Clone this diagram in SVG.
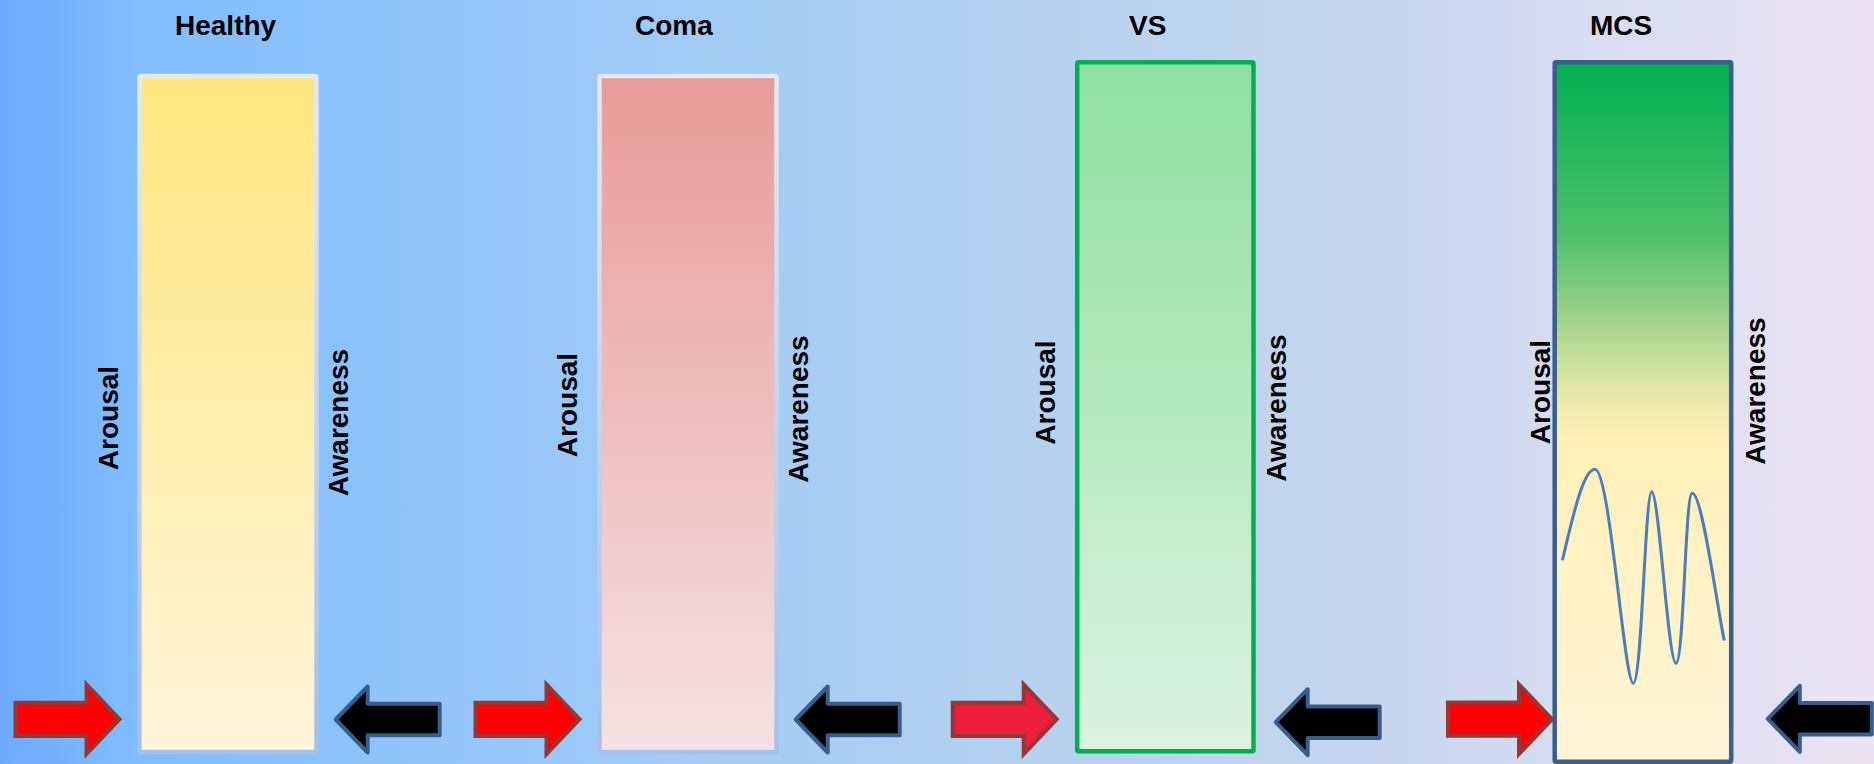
<svg xmlns="http://www.w3.org/2000/svg" width="1874" height="764" viewBox="0 0 1874 764">
<defs>
<style>
.title{font-family:"Liberation Sans",Arial,sans-serif;font-weight:bold;font-size:28px;fill:#000}
.lbl{font-family:"Liberation Sans",Arial,sans-serif;font-weight:bold;font-size:28px;fill:#000;text-anchor:middle}
.red{stroke:#953735;stroke-width:4;stroke-linejoin:miter}
.blk{fill:#000;stroke:#385d8a;stroke-width:4;stroke-linejoin:round}
</style>
<linearGradient id="bg" x1="0" y1="0" x2="1" y2="0">
<stop offset="0" stop-color="#6eabfe"/>
<stop offset="0.075" stop-color="#80bdfe"/>
<stop offset="0.25" stop-color="#94c6fa"/>
<stop offset="0.5" stop-color="#b0d0f0"/>
<stop offset="0.75" stop-color="#c9d7ee"/>
<stop offset="1" stop-color="#ece4f4"/>
</linearGradient>
<linearGradient id="gH" x1="0" y1="0" x2="0" y2="1">
<stop offset="0" stop-color="#ffe67f"/>
<stop offset="1" stop-color="#fff5db"/>
</linearGradient>
<linearGradient id="gC" x1="0" y1="0" x2="0" y2="1">
<stop offset="0" stop-color="#e79a99"/>
<stop offset="1" stop-color="#f5e2e2"/>
</linearGradient>
<linearGradient id="gV" x1="0" y1="0" x2="0" y2="1">
<stop offset="0" stop-color="#8fdf9f"/>
<stop offset="1" stop-color="#dcf3e2"/>
</linearGradient>
<linearGradient id="gM" x1="0" y1="0" x2="0" y2="1">
<stop offset="0" stop-color="#00b050"/>
<stop offset="0.25" stop-color="#50c06c"/>
<stop offset="0.35" stop-color="#94cf86"/>
<stop offset="0.43" stop-color="#cbe09c"/>
<stop offset="0.5" stop-color="#f4ecb2"/>
<stop offset="0.55" stop-color="#fff0b8"/>
<stop offset="1" stop-color="#fff5d8"/>
</linearGradient>
<linearGradient id="sG" x1="0" y1="0" x2="0" y2="1">
<stop offset="0" stop-color="#e4e9f2"/>
<stop offset="1" stop-color="#a6c0ea"/>
</linearGradient>
<path id="ar" d="M0,-16.6 H71 V-34.8 L104,0 L71,34.8 V16.6 H0 Z"/>
<path id="al" d="M0,-15.8 H-72 V-33 L-104,0 L-72,33 V15.8 H0 Z"/>
</defs>
<rect x="0" y="0" width="1874" height="764" fill="url(#bg)"/>

<g id="healthy">
<text class="title" x="175" y="35">Healthy</text>
<rect x="139.5" y="76" width="177" height="676" rx="1.5" fill="url(#gH)" stroke="url(#sG)" stroke-width="4.5"/>
<text class="lbl" transform="translate(118,418) rotate(-90)">Arousal</text>
<text class="lbl" transform="translate(348,422.5) rotate(-90)">Awareness</text>
</g>

<g id="coma">
<text class="title" x="635" y="35">Coma</text>
<rect x="599.5" y="76" width="177" height="676" rx="1.5" fill="url(#gC)" stroke="url(#sG)" stroke-width="4.5"/>
<text class="lbl" transform="translate(577,405) rotate(-90)">Arousal</text>
<text class="lbl" transform="translate(808,409) rotate(-90)">Awareness</text>
</g>

<g id="vs">
<text class="title" x="1129" y="35">VS</text>
<rect x="1077.2" y="62.2" width="176.3" height="689" rx="1.5" fill="url(#gV)" stroke="#00b050" stroke-width="4.5"/>
<text class="lbl" transform="translate(1055,392.5) rotate(-90)">Arousal</text>
<text class="lbl" transform="translate(1285.5,408) rotate(-90)">Awareness</text>
</g>

<g id="mcs">
<text class="title" x="1590" y="35">MCS</text>
<rect x="1554.7" y="62.2" width="176.5" height="699.6" rx="1.5" fill="url(#gM)" stroke="#3b5f8c" stroke-width="4.5"/>
<path d="M1562.7,559 C1572,520 1583,469 1595,469.3 C1610,469 1624,683 1633.3,683.3 C1642,683 1645,492 1651.7,491.7 C1659,492 1668,663 1676,663.3 C1684,663 1685,493 1692.3,493.3 C1702,493 1716,600 1724,639.3" fill="none" stroke="#4a7ebb" stroke-width="3" stroke-linecap="round"/>
<text class="lbl" transform="translate(1550,392) rotate(-90)">Arousal</text>
<text class="lbl" transform="translate(1765,391) rotate(-90)">Awareness</text>
</g>

<g id="connectors">
<use href="#ar" class="red" fill="#ff0000" transform="translate(15.5,719.3)"/>
<use href="#al" class="blk" transform="translate(439.7,719.5)"/>
<use href="#ar" class="red" fill="#ff0000" transform="translate(475.5,719.3)"/>
<use href="#al" class="blk" transform="translate(899.7,719.5)"/>
<use href="#ar" class="red" fill="#ee1d3b" transform="translate(952.7,719.3)"/>
<use href="#al" class="blk" transform="translate(1379.7,722.2)"/>
<use href="#ar" class="red" fill="#ff0000" transform="translate(1448,719.2)"/>
<use href="#al" class="blk" transform="translate(1871.8,718.8)"/>
</g>
</svg>
